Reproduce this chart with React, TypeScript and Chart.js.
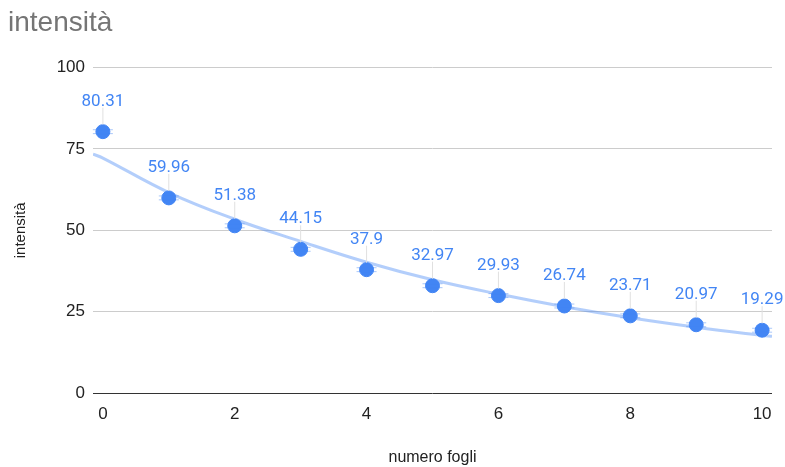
import React, { useEffect, useRef } from "react";
import { Chart, registerables } from "chart.js";

Chart.register(...registerables);

const xValues = [0, 1, 2, 3, 4, 5, 6, 7, 8, 9, 10];
const yValues = [80.31, 59.96, 51.38, 44.15, 37.9, 32.97, 29.93, 26.74, 23.71, 20.97, 19.29];
const errValues = [0.6, 0.6, 0.6, 0.6, 0.6, 0.6, 0.6, 0.6, 0.6, 0.6, 0.6];
const trendX = [-0.15, 0, 1, 2, 3, 4, 5, 6, 7, 8, 9, 10, 10.15];
const trendY = [73.4, 72.2, 61.6, 53.4, 46.6, 40.2, 34.8, 30.4, 26.5, 23.1, 20.2, 17.7, 17.4];
const xTicks = [0, 2, 4, 6, 8, 10];
const yTicks = [0, 25, 50, 75, 100];

const BLUE = "#4285f4";
const FONT = "Roboto, 'Noto Sans', Arial, sans-serif";
const AXFONT = "'Liberation Sans', Arial, sans-serif";

const overlayPlugin = {
  id: "overlay",
  afterDatasetsDraw(chart: any) {
    const ctx = chart.ctx;
    const xs = chart.scales.x;
    const ys = chart.scales.y;
    ctx.save();
    xValues.forEach((xv, i) => {
      const px = xs.getPixelForValue(xv);
      const py = ys.getPixelForValue(yValues[i]);
      const e = errValues[i];
      const top = ys.getPixelForValue(yValues[i] + e);
      const bot = ys.getPixelForValue(yValues[i] - e);
      ctx.strokeStyle = "rgba(66,133,244,0.45)";
      ctx.lineWidth = 1;
      ctx.beginPath();
      ctx.moveTo(px - 10, top);
      ctx.lineTo(px + 10, top);
      ctx.moveTo(px - 10, bot);
      ctx.lineTo(px + 10, bot);
      ctx.stroke();
      ctx.strokeStyle = "#e0e0e0";
      ctx.beginPath();
      ctx.moveTo(px, py - 7);
      ctx.lineTo(px, py - 24);
      ctx.stroke();
      ctx.fillStyle = BLUE;
      ctx.font = `17px ${FONT}`;
      ctx.textAlign = "center";
      ctx.textBaseline = "alphabetic";
      ctx.fillText(String(yValues[i]), px, py - 26);
    });
    ctx.restore();
  },
};

export default function App() {
  const ref = useRef<HTMLCanvasElement>(null);
  useEffect(() => {
    if (!ref.current) return;
    const chart = new Chart(ref.current, {
      type: "scatter",
      data: {
        datasets: [
          {
            label: "intensità",
            data: xValues.map((x, i) => ({ x, y: yValues[i] })),
            backgroundColor: BLUE,
            borderColor: BLUE,
            pointRadius: 7,
            pointHoverRadius: 7,
            order: 0,
          },
          {
            type: "line",
            label: "trend",
            data: trendX.map((x, i) => ({ x, y: trendY[i] })),
            borderColor: "rgba(66,133,244,0.4)",
            borderWidth: 3,
            pointRadius: 0,
            tension: 0.4,
            fill: false,
            order: 1,
          } as any,
        ],
      },
      options: {
        animation: false,
        responsive: false,
        layout: { padding: { left: 8, right: 13, top: 0, bottom: 0 } },
        plugins: {
          legend: { display: false },
          tooltip: { enabled: false },
          title: {
            display: true,
            text: "intensità",
            align: "start",
            color: "#757575",
            font: { family: AXFONT, size: 28, weight: "normal" },
            padding: { top: 6, bottom: 28 },
          },
        },
        scales: {
          x: {
            type: "linear",
            min: -0.15,
            max: 10.15,
            afterBuildTicks: (s: any) => {
              s.ticks = xTicks.map((v) => ({ value: v }));
            },
            afterFit: (s: any) => {
              s.height = 74;
            },
            grid: { display: false },
            border: { display: false },
            ticks: {
              color: "#222",
              font: { family: AXFONT, size: 17 },
              padding: 3,
            },
            title: {
              display: true,
              text: "numero fogli",
              color: "#222",
              font: { family: AXFONT, size: 16 },
              padding: { top: 28, bottom: 0 },
            },
          },
          y: {
            type: "linear",
            min: 0,
            max: 100,
            afterBuildTicks: (s: any) => {
              s.ticks = yTicks.map((v) => ({ value: v }));
            },
            afterFit: (s: any) => {
              s.width = 85;
            },
            grid: {
              color: (c: any) => (c.tick && c.tick.value === 0 ? "#333" : "#ccc"),
              lineWidth: 1,
              drawTicks: false,
            },
            border: { display: false },
            ticks: {
              color: "#222",
              font: { family: AXFONT, size: 17 },
              padding: 8,
            },
            title: {
              display: true,
              text: "intensità",
              color: "#222",
              font: { family: AXFONT, size: 15 },
            },
          },
        },
      },
      plugins: [overlayPlugin],
    });
    return () => chart.destroy();
  }, []);
  return (
    <div style={{ position: "fixed", left: 0, top: 0, width: 785, height: 467, background: "#fff" }}>
      <canvas ref={ref} width={785} height={467} style={{ width: 785, height: 467 }} />
    </div>
  );
}
